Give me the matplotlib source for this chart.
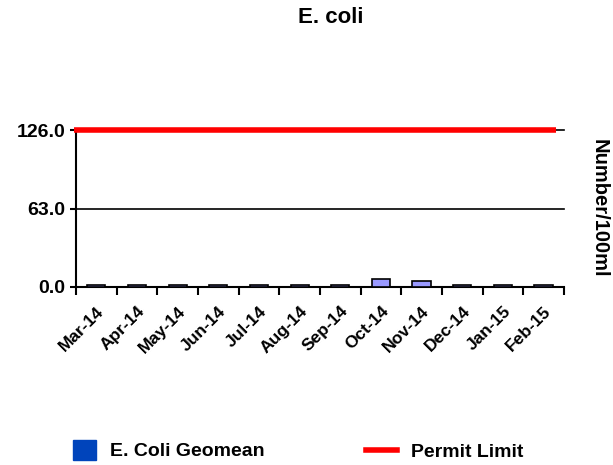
import numpy as np
import matplotlib.pyplot as plt
from matplotlib.patches import Patch
from matplotlib.lines import Line2D

plt.rcParams['font.family'] = ['Liberation Sans', 'DejaVu Sans']
plt.rcParams['font.weight'] = 'bold'

# Data
months = ['Mar-14', 'Apr-14', 'May-14', 'Jun-14', 'Jul-14', 'Aug-14',
          'Sep-14', 'Oct-14', 'Nov-14', 'Dec-14', 'Jan-15', 'Feb-15']
geomean = [1.5, 1.5, 1.5, 1.5, 1.5, 1.5, 1.5, 6.0, 4.5, 1.5, 1.5, 1.5]
permit_limit = 126.0
yticks = [0.0, 63.0, 126.0]

fig = plt.figure(figsize=(6.13, 4.65), dpi=100)
ax = fig.add_axes([0.124, 0.383, 0.796, 0.337])

x = np.arange(len(months))
ax.bar(x, geomean, width=0.45, color='#9999FF', edgecolor='black', linewidth=1.2, zorder=3)

# permit limit line
ax.plot([-0.55, len(months) - 0.7], [permit_limit, permit_limit], color='#FF0000',
        linewidth=4, solid_capstyle='butt', clip_on=False, zorder=4)

ax.set_xlim(-0.5, len(months) - 0.5)
ax.set_ylim(0, permit_limit)
ax.set_yticks(yticks)
ax.set_yticklabels([f'{v:.1f}' for v in yticks], fontsize=14, fontweight='bold')
for v in yticks[1:]:
    ax.axhline(v, color='black', linewidth=1.2, zorder=1, clip_on=False)

# category boundary ticks
ax.set_xticks(np.arange(len(months) + 1) - 0.5)
ax.set_xticklabels([])
ax.set_xticks(x, minor=True)
ax.set_xticklabels(months, minor=True, rotation=45, ha='right',
                   rotation_mode='anchor', fontsize=12.5, fontweight='bold')
ax.tick_params(axis='x', which='major', direction='out', length=6, width=1.5)
ax.tick_params(axis='x', which='minor', length=0, pad=12)
ax.tick_params(axis='y', direction='out', length=4, width=1.5)

for s in ['top', 'right']:
    ax.spines[s].set_visible(False)
ax.spines['left'].set_linewidth(1.5)
ax.spines['bottom'].set_linewidth(1.5)

fig.text(0.977, 0.552, 'Number/100ml', rotation=270, ha='center', va='center',
         fontsize=14.5, fontweight='bold')
fig.text(0.54, 0.962, 'E. coli', ha='center', va='center', fontsize=16, fontweight='bold')

handles = [Patch(facecolor='#0044BB', edgecolor='#0044BB'),
           Line2D([0], [0], color='#FF0000', linewidth=4)]
fig.legend(handles[:1], ['E. Coli Geomean'], loc='center left', bbox_to_anchor=(0.09, 0.032),
           frameon=False, fontsize=14, handlelength=1.2, handleheight=1.2, handletextpad=0.7)
fig.legend(handles[1:], ['Permit Limit'], loc='center left', bbox_to_anchor=(0.569, 0.027),
           frameon=False, fontsize=14, handlelength=1.6, handletextpad=0.7)

fig.savefig('out.png', dpi=100)
